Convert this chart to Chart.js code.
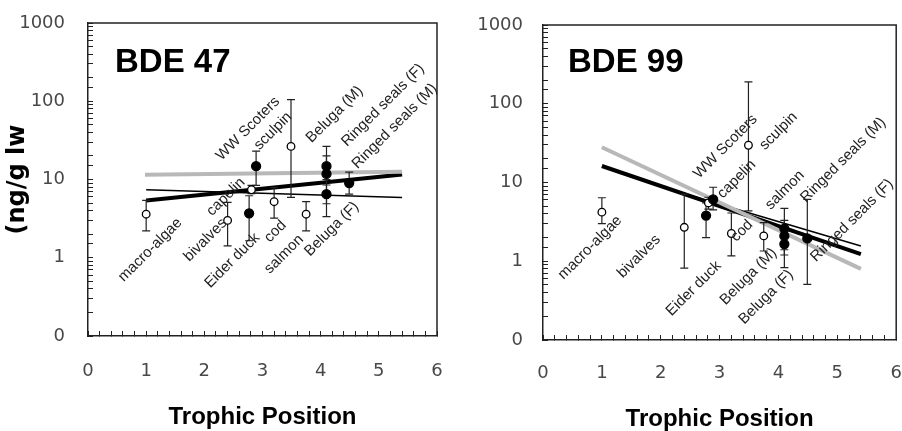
<!DOCTYPE html>
<html>
<head>
<meta charset="utf-8">
<script src="https://cdn.jsdelivr.net/npm/chart.js@4.4.1/dist/chart.umd.min.js"></script>
<style>
  html, body { margin: 0; padding: 0; background: #fff; }
  .wrap { position: relative; width: 902px; height: 431px; overflow: hidden; }
  .panel { position: absolute; top: 0; width: 451px; height: 431px; }
</style>
</head>
<body>
<div class="wrap">
  <div class="panel" style="left:0"><canvas id="chart47" width="451" height="431"></canvas></div>
  <div class="panel" style="left:451px"><canvas id="chart99" width="451" height="431"></canvas></div>
</div>
<script>
// species, in the same order for both panels
const species = ['macro-algae', 'bivalves', 'capelin', 'WW Scoters', 'Eider duck', 'cod',
    'sculpin', 'salmon', 'Beluga (M)', 'Ringed seals (F)', 'Beluga (F)', 'Ringed seals (M)'];
const filled = [false, false, false, true, true, false, false, false, true, true, true, true];
const trophicPos = [1.0, 2.4, 2.81, 2.89, 2.77, 3.2, 3.49, 3.75, 4.1, 4.1, 4.1, 4.49];

// BDE 47 (ng/g lw), mean and error bar ends
const bde47 = [3.6, 3.0, 7.4, 14.8, 3.7, 5.2, 26.5, 3.6, 14.8, 11.8, 6.5, 9.0];
const bde47Low = [2.2, 1.42, 6.6, 8.4, 1.65, 3.2, 5.9, 2.2, 8.5, 4.9, 3.35, 6.5];
const bde47High = [5.4, 5.1, 8.4, 23, 6.2, 7.9, 105, 5.2, 26.5, 20, 10, 12.4];
// where each species name sits (centre of the text, data units)
const bde47LabelX = [1.07, 2.02, 2.37, 2.75, 2.48, 3.22, 3.18, 3.37, 4.24, 5.07, 4.19, 5.27];
const bde47LabelY = [1.26, 1.69, 6.0, 44.7, 0.92, 2.17, 41.5, 1.11, 68, 89, 2.33, 48];

// BDE 99 (ng/g lw)
const bde99 = [4.2, 2.7, 5.5, 6.1, 3.8, 2.25, 29.7, 2.1, 2.6, 2.1, 1.65, 1.95];
const bde99Low = [3.0, 0.82, 4.6, 4.5, 2.0, 1.17, 4.35, 1.35, 1.4, 1.2, 0.83, 0.51];
const bde99High = [6.4, 7.1, 6.5, 8.7, 5.5, 4.1, 190, 3.1, 4.7, 3.3, 2.6, 6.1];
const bde99LabelX = [0.8, 1.63, 3.29, 3.1, 2.56, 3.38, 4.0, 4.11, 3.49, 5.25, 3.79, 5.1];
const bde99LabelY = [1.49, 1.15, 11.0, 28.6, 0.45, 2.43, 45, 8.0, 0.64, 3.3, 0.35, 19.3];

// regression lines (start and end)
const fit47GrayX = [0.98, 5.4], fit47Gray = [11.5, 12.6];
const fit47ThickX = [1.0, 5.4], fit47Thick = [5.4, 11.6];
const fit47ThinX = [1.0, 5.4], fit47Thin = [7.4, 5.9];
const fit99GrayX = [1.0, 5.4], fit99Gray = [28, 0.8];
const fit99ThickX = [1.0, 5.4], fit99Thick = [16.2, 1.23];
const fit99ThinX = [2.4, 5.4], fit99Thin = [7.2, 1.56];

// tick labels
const yDecades = [0.1, 1, 10, 100, 1000];
const yDecadeLabels = ['0', '1', '10', '100', '1000'];
const xTickLabels = ['0', '1', '2', '3', '4', '5', '6'];

function toPoints(xs, ys) {
    return xs.map((x, i) => ({ x: x, y: ys[i] }));
}

function fitLine(xs, ys, color, width) {
    return {
        type: 'line',
        data: toPoints(xs, ys),
        borderColor: color,
        borderWidth: width,
        pointRadius: 0,
        fill: false
    };
}

function buildChart(canvasId, p) {
    // error bars, drawn just before the points
    const errorBars = {
        id: 'errorBars',
        beforeDatasetDraw(chart, args) {
            if (args.index !== 0) return;
            const xs = chart.scales.x, ys = chart.scales.y, ctx = chart.ctx;
            ctx.save();
            ctx.strokeStyle = '#222';
            ctx.lineWidth = 1.2;
            trophicPos.forEach((tp, i) => {
                const px = xs.getPixelForValue(tp);
                const y1 = ys.getPixelForValue(p.low[i]);
                const y2 = ys.getPixelForValue(p.high[i]);
                ctx.beginPath();
                ctx.moveTo(px, y1); ctx.lineTo(px, y2);
                ctx.moveTo(px - 4, y1); ctx.lineTo(px + 4, y1);
                ctx.moveTo(px - 4, y2); ctx.lineTo(px + 4, y2);
                ctx.stroke();
            });
            ctx.restore();
        }
    };

    // top and right edges of the frame
    const frame = {
        id: 'frame',
        beforeDatasetsDraw(chart) {
            const a = chart.chartArea, ctx = chart.ctx;
            ctx.save();
            ctx.strokeStyle = '#222';
            ctx.lineWidth = 1.5;
            ctx.beginPath();
            ctx.moveTo(a.left, a.top);
            ctx.lineTo(a.right, a.top);
            ctx.lineTo(a.right, a.bottom);
            ctx.stroke();
            ctx.restore();
        }
    };

    // species names at 45 degrees and the panel title
    const labels = {
        id: 'speciesLabels',
        afterDatasetsDraw(chart) {
            const xs = chart.scales.x, ys = chart.scales.y, ctx = chart.ctx;
            const area = chart.chartArea;
            ctx.save();
            ctx.fillStyle = '#222';
            ctx.font = '15px "Liberation Sans", Arial, sans-serif';
            ctx.textAlign = 'center';
            ctx.textBaseline = 'middle';
            species.forEach((name, i) => {
                ctx.save();
                ctx.translate(xs.getPixelForValue(p.labelX[i]), ys.getPixelForValue(p.labelY[i]));
                ctx.rotate(-Math.PI / 4);
                ctx.fillText(name, 0, 0);
                ctx.restore();
            });
            ctx.fillStyle = '#000';
            ctx.font = 'bold 33px "Liberation Sans", Arial, sans-serif';
            ctx.textAlign = 'left';
            ctx.fillText(p.title, area.left + p.titleDx, area.top + p.titleDy);
            ctx.restore();
        }
    };

    const tickFont = { family: '"DejaVu Sans", sans-serif', size: 18 };

    return new Chart(document.getElementById(canvasId), {
        data: {
            datasets: [
                {
                    type: 'scatter',
                    data: toPoints(trophicPos, p.values),
                    pointBackgroundColor: filled.map(f => f ? '#000' : '#fff'),
                    pointBorderColor: '#000',
                    pointBorderWidth: 1.3,
                    pointRadius: filled.map(f => f ? 4.5 : 3.8)
                },
                fitLine(p.grayX, p.gray, '#b8b8b8', 4),
                fitLine(p.thickX, p.thick, '#000', 4),
                fitLine(p.thinX, p.thin, '#000', 1.5)
            ]
        },
        options: {
            responsive: false,
            animation: false,
            events: [],
            layout: { padding: { left: 0, right: p.box.right, top: p.box.top, bottom: 0 } },
            plugins: { legend: { display: false }, tooltip: { enabled: false } },
            scales: {
                x: {
                    type: 'linear',
                    position: 'bottom',
                    min: 0,
                    max: 6,
                    afterFit: s => {
                        s.height = 431 - p.box.bottom;
                        s.paddingLeft = 0;
                        s.paddingRight = 0;
                    },
                    border: { color: '#222', width: 1.5 },
                    grid: { drawOnChartArea: false, tickLength: -5, color: '#222' },
                    ticks: {
                        stepSize: 0.2,
                        autoSkip: false,
                        maxRotation: 0,
                        padding: p.xPad,
                        color: '#484848',
                        font: tickFont,
                        callback: v => Math.abs(v - Math.round(v)) < 1e-6 ? xTickLabels[Math.round(v)] : ''
                    },
                    title: {
                        display: true,
                        text: 'Trophic Position',
                        color: '#000',
                        font: { family: '"Liberation Sans", Arial, sans-serif', size: 24, weight: 'bold', lineHeight: 1 },
                        padding: { top: 0, bottom: p.titlePad }
                    }
                },
                y: {
                    type: 'logarithmic',
                    position: 'left',
                    min: 0.1,
                    max: 1000,
                    afterFit: s => {
                        s.width = p.box.left;
                        s.paddingTop = 0;
                        s.paddingBottom = 0;
                    },
                    border: { color: '#222', width: 1.5 },
                    grid: { drawOnChartArea: false, tickLength: -5, color: '#222' },
                    ticks: {
                        autoSkip: false,
                        padding: p.yPad,
                        color: '#484848',
                        font: tickFont,
                        callback: v => {
                            const i = yDecades.findIndex(d => Math.abs(v / d - 1) < 1e-6);
                            return i >= 0 ? yDecadeLabels[i] : '';
                        }
                    },
                    title: {
                        display: p.yTitle !== '',
                        text: p.yTitle,
                        color: '#000',
                        font: { family: '"DejaVu Sans", sans-serif', size: 24, weight: 'bold', lineHeight: 1 },
                        padding: { top: 6, bottom: 0 }
                    }
                }
            }
        },
        plugins: [errorBars, frame, labels]
    });
}

// BDE 47 panel
buildChart('chart47', {
    title: 'BDE 47', titleDx: 27, titleDy: 40,
    values: bde47, low: bde47Low, high: bde47High,
    labelX: bde47LabelX, labelY: bde47LabelY,
    grayX: fit47GrayX, gray: fit47Gray,
    thickX: fit47ThickX, thick: fit47Thick,
    thinX: fit47ThinX, thin: fit47Thin,
    box: { left: 88, right: 14, top: 23, bottom: 336 },
    xPad: 30, yPad: 28, titlePad: 2,
    yTitle: '(ng/g lw'
});

// BDE 99 panel
buildChart('chart99', {
    title: 'BDE 99', titleDx: 25, titleDy: 38,
    values: bde99, low: bde99Low, high: bde99High,
    labelX: bde99LabelX, labelY: bde99LabelY,
    grayX: fit99GrayX, gray: fit99Gray,
    thickX: fit99ThickX, thick: fit99Thick,
    thinX: fit99ThinX, thin: fit99Thin,
    box: { left: 92, right: 5, top: 25, bottom: 340 },
    xPad: 28, yPad: 25, titlePad: 0,
    yTitle: ''
});
</script>
</body>
</html>
